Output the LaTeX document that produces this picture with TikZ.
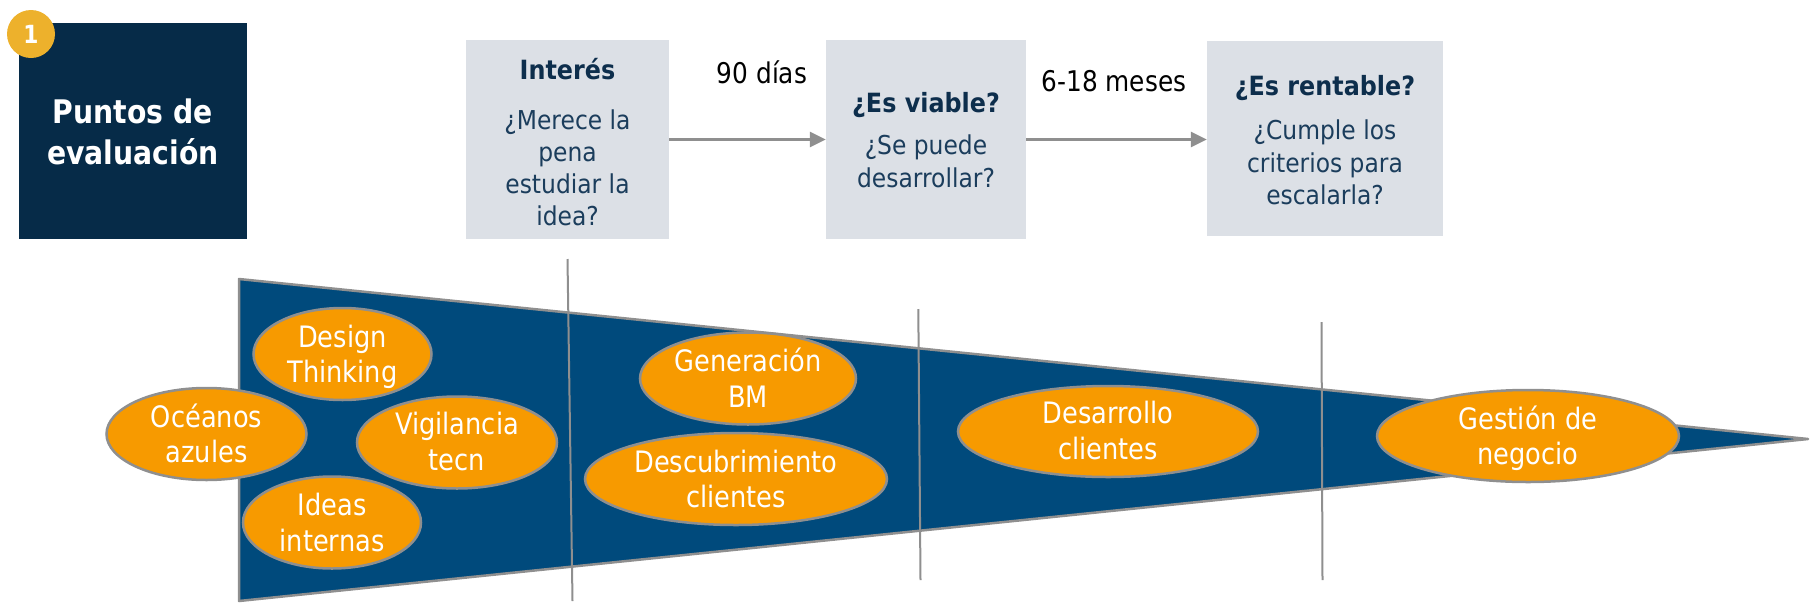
\documentclass[tikz,border=0pt]{standalone}
\usepackage{fontspec}
\setmainfont{DejaVu Sans}
\newfontfamily\narrowfont{DejaVu Sans}[FakeStretch=0.87]
\newfontfamily\boxfont{DejaVu Sans}[FakeStretch=0.9]
\usetikzlibrary{shapes.geometric,arrows.meta}
\definecolor{navy}{HTML}{062B48}
\definecolor{funnelblue}{HTML}{004A7C}
\definecolor{orng}{HTML}{F79A00}
\definecolor{badgec}{HTML}{EDB12C}
\definecolor{boxgray}{HTML}{DCE0E6}
\definecolor{grayl}{HTML}{8F8F8F}
\definecolor{headc}{HTML}{0D2E4C}
\definecolor{bodyc}{HTML}{1B3D5C}
\begin{document}
\begin{tikzpicture}[x=1pt,y=-1pt,
  titlebox/.style={fill=navy, draw=none, inner sep=0pt},
  titletext/.style={font=\narrowfont\bfseries\fontsize{32.5}{41.7}\selectfont, text=white, align=center, inner sep=0pt},
  badge/.style={circle, fill=badgec, draw=none, minimum size=48pt, inner sep=0pt, font=\narrowfont\bfseries\fontsize{25}{30}\selectfont, text=white},
  topbox/.style={fill=boxgray, draw=none, inner sep=0pt},
  boxtext/.style={font=\boxfont\fontsize{26}{32.2}\selectfont, text=bodyc, align=center, inner sep=0pt},
  lbl/.style={font=\narrowfont\fontsize{28.5}{34}\selectfont, text=black, inner sep=0pt},
  arr/.style={draw=grayl, line width=3pt, -{Triangle[length=16pt,width=15pt]}},
  funnelshape/.style={fill=funnelblue, draw=grayl, line width=2.5pt, line join=round},
  divider/.style={draw=grayl, line width=2pt},
  ell/.style={ellipse, fill=orng, draw=grayl, line width=2.5pt, inner sep=0pt},
  elltext/.style={font=\narrowfont\fontsize{29.5}{35.5}\selectfont, text=white, align=center, inner sep=0pt}
]
\useasboundingbox (0,0) rectangle (1810,606);

% title box and badge
\node[titlebox, minimum width=228pt, minimum height=216pt] (tb) at (133,131) {};
\node[titletext] (tbt) at (133,135.8) {\strut Puntos de\\\strut evaluación};
\node[badge] (bdg) at (31,34) {1};

% top boxes
\newcommand\hd[1]{{\fontsize{26.5}{32.2}\selectfont\bfseries\color{headc}\strut #1}}
\node[topbox, minimum width=203pt, minimum height=199pt] (b1) at (567.5,139.5) {};
\node[boxtext] (b1t) at (567.5,146.2) {\hd{Interés}\\[17.8pt]\strut ¿Merece la\\\strut pena\\\strut estudiar la\\\strut idea?};
\node[topbox, minimum width=200pt, minimum height=199pt] (b2) at (926,139.5) {};
\node[boxtext] (b2t) at (926,143.3) {\hd{¿Es viable?}\\[10.5pt]\strut ¿Se puede\\\strut desarrollar?};
\node[topbox, minimum width=236pt, minimum height=195pt] (b3) at (1325,138.5) {};
\node[boxtext] (b3t) at (1325,143.6) {\hd{¿Es rentable?}\\[12.1pt]\strut ¿Cumple los\\\strut criterios para\\\strut escalarla?};

\draw[arr] (b1.east) -- (b2.west);
\draw[arr] (b2.east) -- (b2.east -| b3.west);
\node[lbl, anchor=base] (d90) at (762,83.3) {90 días};
\node[lbl, anchor=base] (m618) at (1114,91.7) {6-18 meses};

% funnel
\coordinate (fTL) at (239,279);
\coordinate (fTip) at (1808,439);
\coordinate (fBL) at (239,601);
\path[funnelshape] (fTL) -- (fTip) -- (fBL) -- cycle;

% dividers
\draw[divider] (567.5,259) -- (572.5,601);
\draw[divider] (918.3,309) -- (920.5,580);
\draw[divider] (1321.5,322) -- (1322.5,580);

% ellipses
\node[ell, minimum width=178pt, minimum height=92pt] (DT) at (342.5,354) {};
\node[elltext] (DTt) at ([yshift=-4pt]DT.center) {\strut Design\\\strut Thinking};
\node[ell, minimum width=200pt, minimum height=92pt] (OA) at (206.5,434) {};
\node[elltext] (OAt) at ([yshift=-4pt]OA.center) {\strut Océanos\\\strut azules};
\node[ell, minimum width=200pt, minimum height=92pt] (VT) at (457,442.5) {};
\node[elltext] (VTt) at ([yshift=-3pt]VT.center) {\strut Vigilancia\\\strut tecn};
\node[ell, minimum width=178pt, minimum height=92pt] (II) at (332,522.5) {};
\node[elltext] (IIt) at ([yshift=-4pt]II.center) {\strut Ideas\\\strut internas};
\node[ell, minimum width=216pt, minimum height=92pt] (GB) at (748,378.5) {};
\node[elltext] (GBt) at ([yshift=-4pt]GB.center) {\strut Generación\\\strut BM};
\node[ell, minimum width=302pt, minimum height=92pt] (DC) at (736,479) {};
\node[elltext] (DCt) at ([yshift=-4pt]DC.center) {\strut Descubrimiento\\\strut clientes};
\node[ell, minimum width=300pt, minimum height=91pt] (DS) at (1108,431.5) {};
\node[elltext] (DSt) at ([yshift=-3pt]DS.center) {\strut Desarrollo\\\strut clientes};
\node[ell, minimum width=302pt, minimum height=92pt] (GN) at (1528,436) {};
\node[elltext] (GNt) at ([yshift=-4pt]GN.center) {\strut Gestión de\\\strut negocio};
\end{tikzpicture}
\end{document}
